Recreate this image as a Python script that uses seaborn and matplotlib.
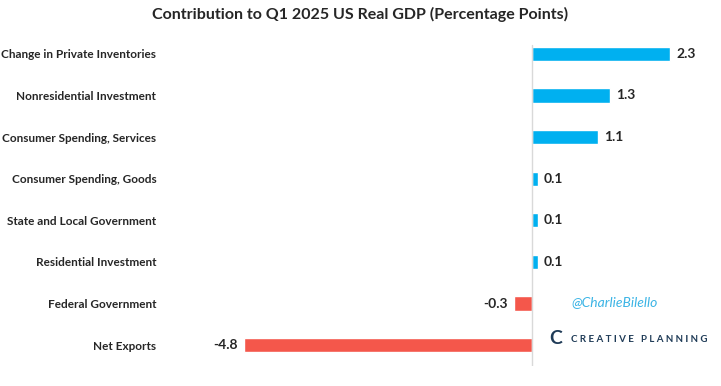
import matplotlib
matplotlib.use("Agg")
import matplotlib.pyplot as plt
import seaborn as sns
import pandas as pd

categories = [
    "Change in Private Inventories",
    "Nonresidential Investment",
    "Consumer Spending, Services",
    "Consumer Spending, Goods",
    "State and Local Government",
    "Residential Investment",
    "Federal Government",
    "Net Exports",
]
values = [2.3, 1.3, 1.1, 0.1, 0.1, 0.1, -0.3, -4.8]
value_labels = ["2.3", "1.3", "1.1", "0.1", "0.1", "0.1", "-0.3", "-4.8"]

df = pd.DataFrame({"category": categories, "value": values})
df["sign"] = ["pos" if v >= 0 else "neg" for v in values]

sns.set_theme(style="white")
plt.rcParams["font.family"] = ["Lato", "DejaVu Sans"]

fig = plt.figure(figsize=(7.21, 3.86), dpi=100)
ax = fig.add_axes([166 / 721, 1 - 366 / 386, (712 - 166) / 721, (366 - 33) / 386])

sns.barplot(data=df, y="category", x="value", hue="sign",
            palette={"pos": "#00B0F0", "neg": "#F4574B"}, saturation=1,
            width=0.34, dodge=False, legend=False, ax=ax, orient="h")

ax.set_xlim(-6.1, 3.0)
ax.set_ylim(7.5, -0.5)
ax.axvline(0, ymin=0.0, ymax=0.965, color="#d9d9d9", lw=1)

for i, (v, lab) in enumerate(zip(values, value_labels)):
    if v >= 0:
        ax.text(v + 0.1, i, lab, ha="left", va="center", fontsize=10, fontweight="bold")
    else:
        ax.text(v - 0.1, i, lab, ha="right", va="center", fontsize=10, fontweight="bold")

ax.set_xlabel("")
ax.set_ylabel("")
ax.set_xticks([])
ax.tick_params(axis="y", length=0, pad=7)
for t in ax.get_yticklabels():
    t.set_fontsize(8.5)
    t.set_fontweight("bold")
for s in ax.spines.values():
    s.set_visible(False)

fig.text(0.5, 1 - 14 / 386, "Contribution to Q1 2025 US Real GDP (Percentage Points)",
         ha="center", va="center", fontsize=11.5, fontweight="bold")

fig.text(615 / 721, 1 - 302 / 386, "@CharlieBilello", ha="center", va="center",
         fontsize=10, style="italic", color="#3BB4E5")
fig.text(549 / 721, 1 - 339 / 386, "C", ha="left", va="center",
         fontsize=14, fontweight="bold", color="#1F3B57")
fig.text(571 / 721, 1 - 339 / 386, "C R E A T I V E   P L A N N I N G", ha="left", va="center",
         fontsize=7, fontweight="bold", color="#1F3B57")

fig.savefig("out.png", dpi=100)
